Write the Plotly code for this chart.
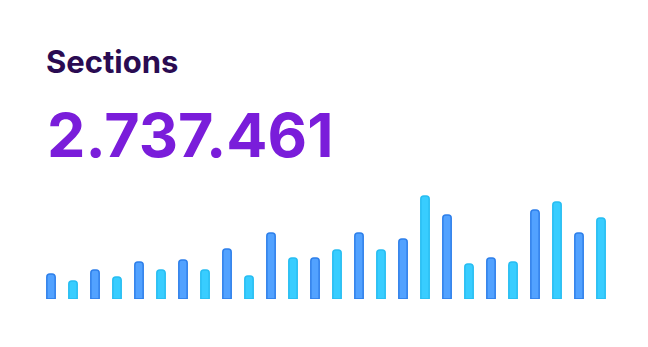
import plotly.graph_objects as go

title_text = "Sections"
total_text = "2.737.461"
days = list(range(1, 27))
values = [25, 18, 29, 22, 37, 29, 39, 29, 50, 23, 66, 41, 41,
          49, 66, 49, 60, 103, 84, 35, 41, 37, 89, 97, 66, 81]
fill_colors = ["#52A2FF" if i % 2 == 0 else "#38CDFF" for i in range(len(values))]
line_colors = ["#2E7FEA" if i % 2 == 0 else "#27BDF2" for i in range(len(values))]

fig = go.Figure(go.Bar(
    x=days, y=values,
    marker=dict(color=fill_colors, line=dict(color=line_colors, width=1.5), cornerradius=3),
    width=0.38,
    hoverinfo="skip",
))

fig.update_layout(
    width=648, height=347,
    margin=dict(l=40, r=36, t=189, b=48),
    paper_bgcolor="white", plot_bgcolor="white",
    showlegend=False,
    xaxis=dict(visible=False, range=[0.5, 26.5]),
    yaxis=dict(visible=False, range=[0, 110]),
    annotations=[
        dict(text=title_text, xref="paper", yref="paper", x=(44 - 40) / 572, y=(299 - 61.5) / 110,
             xanchor="left", yanchor="middle", showarrow=False,
             font=dict(family="Inter", size=31, color="#2A0B52", weight="bold")),
        dict(text=total_text, xref="paper", yref="paper", x=(45 - 40) / 572, y=(299 - 134.5) / 110,
             xanchor="left", yanchor="middle", showarrow=False,
             font=dict(family="Inter", size=61, color="#7A1DDA", weight="bold")),
    ],
)

fig.write_html("out.html")
